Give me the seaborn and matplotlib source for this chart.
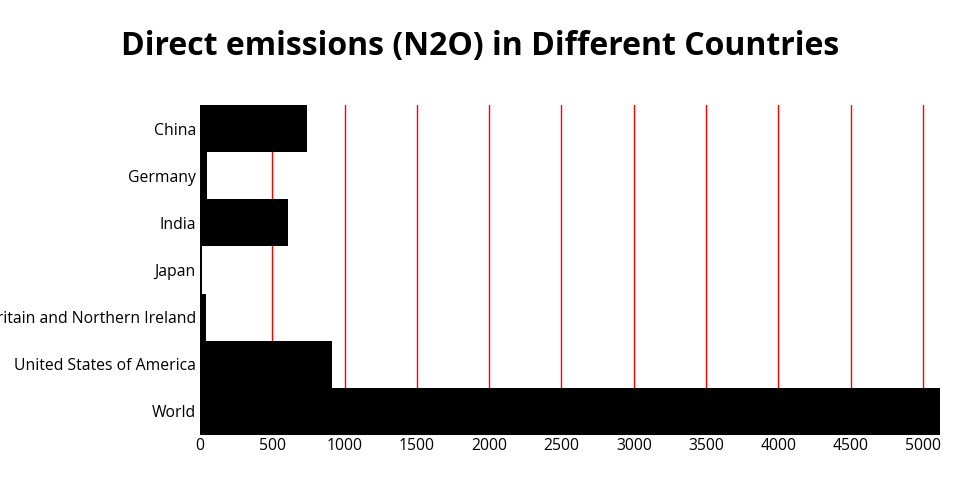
import matplotlib
matplotlib.use("Agg")
import matplotlib.pyplot as plt
import seaborn as sns
import pandas as pd

countries = ["China", "Germany", "India", "Japan",
             "United Kingdom of Great Britain and Northern Ireland",
             "United States of America", "World"]
values = [740, 45, 608, 14, 40, 913, 5118]
xticks = [0, 500, 1000, 1500, 2000, 2500, 3000, 3500, 4000, 4500, 5000]

df = pd.DataFrame({"country": countries, "value": values})

sns.set_theme(style="white")
plt.rcParams['font.family'] = ['Open Sans', 'DejaVu Sans']
plt.rcParams['text.color'] = 'black'
plt.rcParams['xtick.color'] = 'black'
plt.rcParams['ytick.color'] = 'black'

fig = plt.figure(figsize=(9.6, 5), dpi=100)
ax = fig.add_axes([200/960, 65/500, 740/960, 330/500])

sns.barplot(data=df, x="value", y="country", orient="h", color="black",
            width=1.0, saturation=1, linewidth=0, edgecolor="black",
            ax=ax, zorder=2)

ax.set_xlim(0, max(values))
ax.set_xticks(xticks)
ax.set_xticklabels([str(t) for t in xticks], fontsize=11.3, color="black")
ax.tick_params(axis="y", labelsize=11.3, labelcolor="black", length=0, pad=3)
ax.tick_params(axis="x", length=0, pad=2, labelcolor="black")
ax.xaxis.grid(True, color="red", linewidth=1, zorder=1)
ax.set_axisbelow(True)
ax.set_xlabel("")
ax.set_ylabel("")
for s in ax.spines.values():
    s.set_visible(False)

fig.text(480/960, 1 - 47/500, "Direct emissions (N2O) in Different Countries",
         ha="center", va="center", fontsize=23, fontweight="bold", color="black")

fig.savefig("out.png", dpi=100)
